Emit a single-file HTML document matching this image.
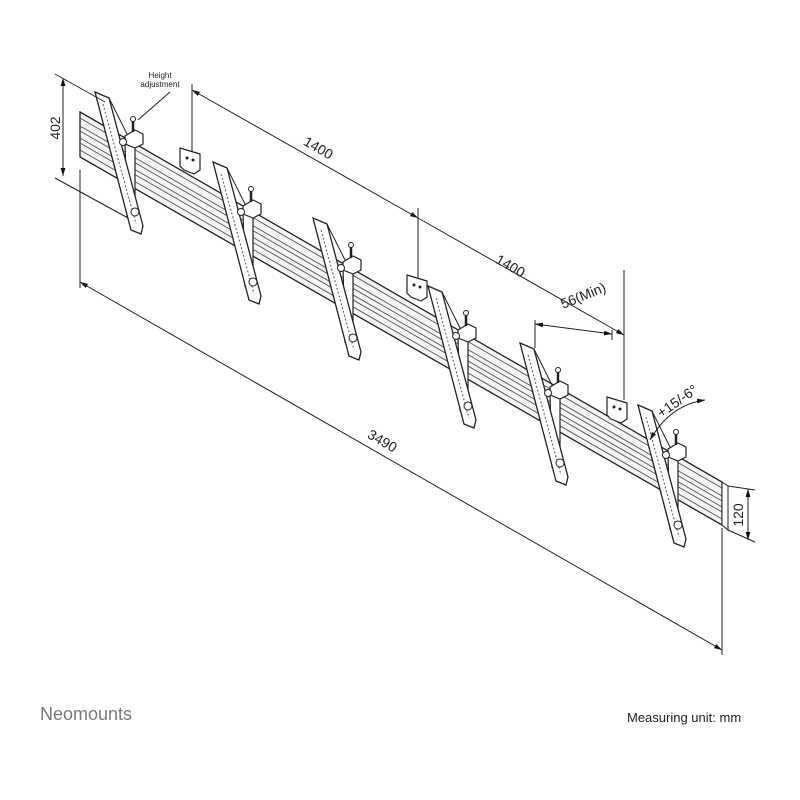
<!DOCTYPE html>
<html><head><style>
body{margin:0;background:#fff;width:800px;height:800px;overflow:hidden}
svg{display:block}
text{font-family:"Liberation Sans",sans-serif;fill:#222}
</style></head><body>
<svg width="800" height="800" viewBox="0 0 800 800" xmlns="http://www.w3.org/2000/svg">
<defs>
<marker id="a" viewBox="0 0 10 10" refX="10" refY="5" markerWidth="8" markerHeight="8" orient="auto-start-reverse"><path d="M0,2 L10,5 L0,8z" fill="#111"/></marker>
<g id="br">
  <!-- arm -->
  <polygon points="30,50 40,46 40,120 32,124" fill="#fff" stroke="#222" stroke-width="1.2"/>
  <!-- plate -->
  <polygon points="0,0 14,6 48,134 46,142 36,138" fill="#fff" stroke="#222" stroke-width="1.3"/>
  <line x1="8" y1="12" x2="41" y2="132" stroke="#555" stroke-width="1" stroke-dasharray="2,2"/>
  <line x1="14" y1="6" x2="36" y2="50" stroke="#222" stroke-width="1"/>
  <!-- clip block -->
  <polygon points="30,44 40,38 48,42 48,52 40,56 30,52" fill="#fff" stroke="#222" stroke-width="1.2"/>
  <line x1="38" y1="40" x2="38" y2="28" stroke="#222" stroke-width="2.5"/>
  <circle cx="38" cy="27" r="2.5" fill="#fff" stroke="#222"/>
  <circle cx="28" cy="50" r="3.5" fill="#fff" stroke="#222"/>
  <circle cx="40" cy="120" r="4" fill="#fff" stroke="#222"/>
</g>
<g id="hk">
  <polygon points="0,0 20,6 20,22 14,26 4,22 0,18" fill="#fff" stroke="#222" stroke-width="1.2"/>
  <circle cx="7" cy="10" r="1.5" fill="#222"/><circle cx="13" cy="12" r="1.5" fill="#222"/>
</g>
</defs>

<!-- rail -->
<polygon points="80,112 722,482 722,525 80,157" fill="#f4f4f4" stroke="#222" stroke-width="1.3"/>
<g stroke="#555" stroke-width="0.9">
<line x1="80" y1="118" x2="722" y2="488"/>
<line x1="80" y1="126" x2="722" y2="496"/>
<line x1="80" y1="131" x2="722" y2="501"/>
<line x1="80" y1="138" x2="722" y2="507"/>
<line x1="80" y1="143" x2="722" y2="512"/>
<line x1="80" y1="150" x2="722" y2="519"/>
</g>
<polygon points="722,482 728,486 728,530 722,525" fill="#fff" stroke="#222"/>

<!-- hooks -->
<use href="#hk" x="180" y="148"/>
<use href="#hk" x="407" y="275"/>
<use href="#hk" x="607" y="397"/>

<!-- brackets -->
<use href="#br" x="95" y="92"/>
<use href="#br" x="213" y="162"/>
<use href="#br" x="313" y="218"/>
<use href="#br" x="428" y="286"/>
<use href="#br" x="520" y="343"/>
<use href="#br" x="638" y="405"/>

<!-- dimensions -->
<g stroke="#222" stroke-width="1" fill="none">
<line x1="55" y1="74" x2="105" y2="102"/>
<line x1="55" y1="178" x2="128" y2="218"/>
<line x1="63" y1="78" x2="63" y2="176" marker-start="url(#a)" marker-end="url(#a)"/>
<line x1="192" y1="84" x2="192" y2="152"/>
<line x1="418" y1="208" x2="418" y2="278"/>
<line x1="192" y1="90" x2="418" y2="218" marker-start="url(#a)" marker-end="url(#a)"/>
<line x1="418" y1="218" x2="624" y2="335" marker-end="url(#a)"/>
<line x1="624" y1="270" x2="624" y2="400"/>
<line x1="535" y1="320" x2="535" y2="348"/>
<line x1="612" y1="330" x2="612" y2="340"/>
<line x1="535" y1="324" x2="612" y2="334" marker-start="url(#a)" marker-end="url(#a)"/>
<line x1="80" y1="170" x2="80" y2="288"/>
<line x1="722" y1="528" x2="722" y2="655"/>
<line x1="80" y1="282" x2="722" y2="650" marker-start="url(#a)" marker-end="url(#a)"/>
<line x1="728" y1="486" x2="755" y2="490"/>
<line x1="728" y1="530" x2="755" y2="542"/>
<line x1="748" y1="489" x2="748" y2="540" marker-start="url(#a)" marker-end="url(#a)"/>
<line x1="170" y1="92" x2="138" y2="120"/>
<path d="M650,440 Q670,405 705,400" marker-start="url(#a)" marker-end="url(#a)"/>
</g>

<text x="160" y="78" font-size="8" text-anchor="middle">Height</text>
<text x="160" y="87" font-size="8" text-anchor="middle">adjustment</text>
<text transform="translate(60,128) rotate(-90)" font-size="14" text-anchor="middle">402</text>
<text transform="translate(316,152) rotate(30)" font-size="14" text-anchor="middle">1400</text>
<text transform="translate(508,270) rotate(30)" font-size="14" text-anchor="middle">1400</text>
<text transform="translate(585,300) rotate(-22)" font-size="14" text-anchor="middle">56(Min)</text>
<text transform="translate(380,445) rotate(30)" font-size="14" text-anchor="middle">3490</text>
<text transform="translate(743,515) rotate(-90)" font-size="14" text-anchor="middle">120</text>
<text transform="translate(680,405) rotate(-35)" font-size="14" text-anchor="middle">+15/-6°</text>

<text x="40" y="720" font-size="18" style="fill:#7a7a7a">Neomounts</text>
<text x="627" y="722" font-size="13">Measuring unit: mm</text>
</svg>
</body></html>
